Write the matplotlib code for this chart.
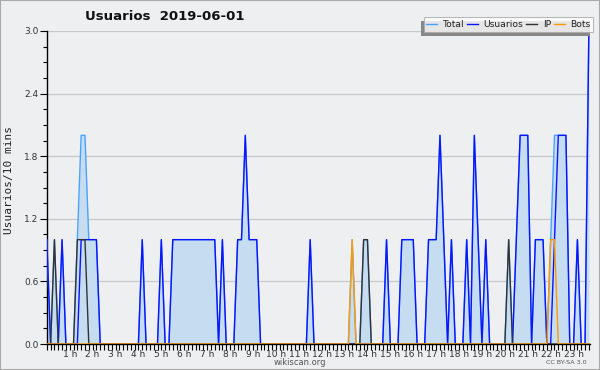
import numpy as np
import matplotlib
matplotlib.use("Agg")
import matplotlib.pyplot as plt
from matplotlib.patches import Rectangle
from matplotlib.ticker import MultipleLocator
import matplotlib.transforms as mtransforms

# ── Data: 10-minute bins starting at 00:00 ─────────────────────────────────
usuarios = [1, 0, 0, 0, 1, 0, 0, 0, 0, 1, 1, 1, 1, 1, 0, 0, 0, 0, 0, 0,
            0, 0, 0, 0, 0, 1, 0, 0, 0, 0, 1, 0, 0, 1, 1, 1, 1, 1, 1, 1,
            1, 1, 1, 1, 1, 0, 1, 0, 0, 0, 1, 1, 2, 1, 1, 1, 0, 0, 0, 0,
            0, 0, 0, 0, 0, 0, 0, 0, 0, 1, 0, 0, 0, 0, 0, 0, 0, 0, 0, 0,
            0, 0, 0, 0, 0, 0, 0, 0, 0, 1, 0, 0, 0, 1, 1, 1, 1, 0, 0, 0,
            1, 1, 1, 2, 1, 0, 1, 0, 0, 0, 1, 0, 2, 1, 0, 1, 0, 0, 0, 0,
            0, 0, 0, 1, 2, 2, 2, 0, 1, 1, 1, 0, 0, 1, 2, 2, 2, 0, 0, 1,
            0, 0, 3]
ip       = [0, 0, 1, 0, 0, 0, 0, 0, 1, 1, 1, 0, 0, 0, 0, 0, 0, 0, 0, 0,
            0, 0, 0, 0, 0, 0, 0, 0, 0, 0, 0, 0, 0, 0, 0, 0, 0, 0, 0, 0,
            0, 0, 0, 0, 0, 0, 0, 0, 0, 0, 0, 0, 0, 0, 0, 0, 0, 0, 0, 0,
            0, 0, 0, 0, 0, 0, 0, 0, 0, 0, 0, 0, 0, 0, 0, 0, 0, 0, 0, 0,
            0, 0, 0, 1, 1, 0, 0, 0, 0, 0, 0, 0, 0, 0, 0, 0, 0, 0, 0, 0,
            0, 0, 0, 0, 0, 0, 0, 0, 0, 0, 0, 0, 0, 0, 0, 0, 0, 0, 0, 0,
            0, 1, 0, 0, 0, 0, 0, 0, 0, 0, 0, 0, 0, 0, 0, 0, 0, 0, 0, 0,
            0, 0, 0]
bots     = [0, 0, 0, 0, 0, 0, 0, 0, 0, 0, 0, 0, 0, 0, 0, 0, 0, 0, 0, 0,
            0, 0, 0, 0, 0, 0, 0, 0, 0, 0, 0, 0, 0, 0, 0, 0, 0, 0, 0, 0,
            0, 0, 0, 0, 0, 0, 0, 0, 0, 0, 0, 0, 0, 0, 0, 0, 0, 0, 0, 0,
            0, 0, 0, 0, 0, 0, 0, 0, 0, 0, 0, 0, 0, 0, 0, 0, 0, 0, 0, 0,
            1, 0, 0, 0, 0, 0, 0, 0, 0, 0, 0, 0, 0, 0, 0, 0, 0, 0, 0, 0,
            0, 0, 0, 0, 0, 0, 0, 0, 0, 0, 0, 0, 0, 0, 0, 0, 0, 0, 0, 0,
            0, 0, 0, 0, 0, 0, 0, 0, 0, 0, 0, 0, 1, 1, 0, 0, 0, 0, 0, 0,
            0, 0, 0]
total    = [1, 0, 1, 0, 1, 0, 0, 0, 1, 2, 2, 1, 1, 1, 0, 0, 0, 0, 0, 0,
            0, 0, 0, 0, 0, 1, 0, 0, 0, 0, 1, 0, 0, 1, 1, 1, 1, 1, 1, 1,
            1, 1, 1, 1, 1, 0, 1, 0, 0, 0, 1, 1, 2, 1, 1, 1, 0, 0, 0, 0,
            0, 0, 0, 0, 0, 0, 0, 0, 0, 1, 0, 0, 0, 0, 0, 0, 0, 0, 0, 0,
            1, 0, 0, 1, 1, 0, 0, 0, 0, 1, 0, 0, 0, 1, 1, 1, 1, 0, 0, 0,
            1, 1, 1, 2, 1, 0, 1, 0, 0, 0, 1, 0, 2, 1, 0, 1, 0, 0, 0, 0,
            0, 1, 0, 1, 2, 2, 2, 0, 1, 1, 1, 0, 1, 2, 2, 2, 2, 0, 0, 1,
            0, 0, 3]
hour_labels = [f"{h} h" for h in range(1, 24)]

title = "Usuarios  2019-06-01"
ylabel = "Usuarios/10 mins"

# ── Style ──────────────────────────────────────────────────────────────────
BG       = "#eeeff1"
C_TOTAL  = "#4aa3ff"
C_USER   = "#0a14ff"
C_IP     = "#333333"
C_BOTS   = "#ff9900"
C_FILL   = "#c6dcf0"

x = np.arange(len(total))

fig = plt.figure(figsize=(6, 3.7), dpi=100, facecolor=BG)
ax = fig.add_axes([46.8 / 600, 26 / 370, 543.2 / 600, 313 / 370])
ax.set_facecolor(BG)

ax.fill_between(x, 0, total, color=C_FILL, lw=0, zorder=1)
ax.plot(x, total, color=C_TOTAL, lw=1.0, label="Total", zorder=3)
ax.plot(x, usuarios, color=C_USER, lw=1.0, label="Usuarios", zorder=4)
ax.plot(x, ip, color=C_IP, lw=1.0, label="IP", zorder=5)
ax.plot(x, bots, color=C_BOTS, lw=1.0, label="Bots", zorder=6)

ax.set_xlim(0, 142.3)
ax.set_ylim(0, 3.0)

# y axis
ax.set_yticks([0.0, 0.6, 1.2, 1.8, 2.4, 3.0])
ax.set_yticklabels(["0.0", "0.6", "1.2", "1.8", "2.4", "3.0"])
ax.yaxis.set_minor_locator(MultipleLocator(0.15))
ax.grid(axis="y", color="#c8c8c8", lw=0.9, zorder=0)
ax.set_axisbelow(True)

# x axis: hour ticks + 10 min minor ticks
ax.set_xticks(np.arange(6, 142, 6))
ax.set_xticklabels(hour_labels)
ax.xaxis.set_minor_locator(MultipleLocator(1))
offset = mtransforms.ScaledTranslation(-4 / 100, 0, fig.dpi_scale_trans)
for lab in ax.get_xticklabels():
    lab.set_transform(lab.get_transform() + offset)

ax.tick_params(axis="both", which="both", direction="out", color="black",
               labelsize=6.5, labelcolor="#333333")
ax.tick_params(axis="x", which="major", length=4, width=0.8, pad=0)
ax.tick_params(axis="x", which="minor", length=4, width=0.8)
ax.tick_params(axis="y", which="major", length=5, width=0.8, pad=1)
ax.tick_params(axis="y", which="minor", length=3, width=0.8)

for s in ["top", "right"]:
    ax.spines[s].set_visible(False)
for s in ["left", "bottom"]:
    ax.spines[s].set_color("black")
    ax.spines[s].set_linewidth(1.0)

fig.text(9 / 600, 1 - 180 / 370, ylabel, family="DejaVu Sans Mono",
         fontsize=8, color="#222222", rotation=90, ha="center", va="center")

fig.text(85 / 600, 1 - 17 / 370, title, fontsize=9.5, fontweight="bold",
         ha="left", va="center", color="#111111")

# legend with a shadow to the lower left
leg = fig.legend(loc="upper right", bbox_to_anchor=(593 / 600, 1 - 17 / 370),
                 ncol=4, fontsize=6.6, frameon=True, fancybox=False,
                 handlelength=1.2, handletextpad=0.6, columnspacing=0.3,
                 borderpad=0.3, borderaxespad=0)
leg.get_frame().set_facecolor("white")
leg.get_frame().set_edgecolor("#aaaaaa")
leg.get_frame().set_linewidth(0.8)
leg.set_zorder(6)
for t in leg.get_texts():
    t.set_color("#222222")
fig.canvas.draw()
bb = leg.get_window_extent()
fig.patches.append(Rectangle((bb.x0 - 3, bb.y0 - 4), bb.width, bb.height,
                             transform=mtransforms.IdentityTransform(),
                             facecolor="#888888", edgecolor="none", zorder=5))

fig.text(300 / 600, 1 - 362.5 / 370, "wikiscan.org", fontsize=6,
         color="#555555", ha="center", va="center")
fig.text(566 / 600, 1 - 362.5 / 370, "CC BY-SA 3.0", fontsize=4.6,
         color="#555555", ha="center", va="center")

# figure border
fig.patches.append(Rectangle((0, 0), 1, 1, transform=fig.transFigure,
                             fill=False, edgecolor="#aaaaaa", lw=1.5, zorder=10))

fig.savefig("out.png", dpi=100, facecolor=BG)
